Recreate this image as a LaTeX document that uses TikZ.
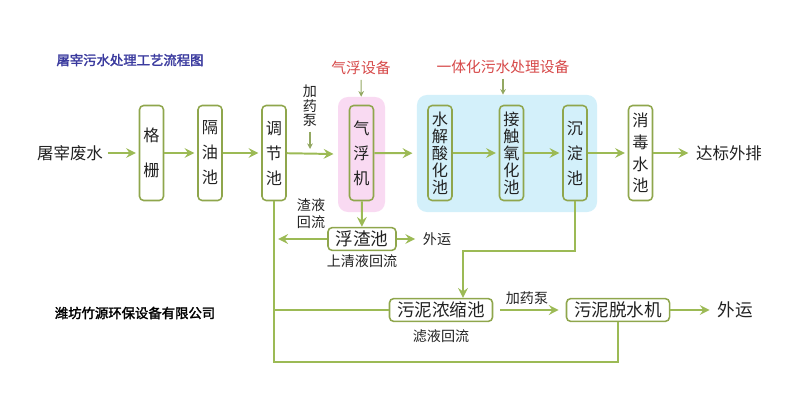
\documentclass[tikz,border=0pt]{standalone}
\usepackage{fontspec}
\usepackage{xcolor}
\usepackage{tikz}
\usetikzlibrary{arrows.meta}
\newfontfamily\cjk{Noto Sans CJK SC}
\newfontfamily\cjkbold[FakeBold=2]{Noto Sans CJK SC}

\definecolor{linegreen}{HTML}{9CBA55}
\definecolor{boxgreen}{HTML}{8FA64C}
\definecolor{pinkzone}{HTML}{F9DAF2}
\definecolor{bluezone}{HTML}{D3F0FA}
\definecolor{labelred}{HTML}{D64848}
\definecolor{titleblue}{HTML}{3A3A9E}
\definecolor{txt}{HTML}{222222}

\tikzset{
    flow/.style={draw=linegreen, line width=1.4pt, -{Stealth[length=7pt,width=7pt,inset=2.5pt]}, shorten >=2pt},
    thinflow/.style={draw=linegreen!70!gray, line width=0.8pt, -{Stealth[length=4pt,width=4pt]}},
    pipe/.style={draw=linegreen, line width=1.4pt},
    tank/.style={draw=boxgreen, line width=1.1pt, rounded corners=3pt, minimum width=0.6cm,
        minimum height=2.375cm, inner sep=0pt, align=center, text=txt},
    hbox/.style={draw=boxgreen, line width=1.1pt, rounded corners=3pt, minimum height=0.57cm,
        inner sep=0pt, text=txt, font=\cjk\fontsize{12.5}{14}\selectfont},
    note/.style={text=txt, align=center, font=\cjk\fontsize{10}{12}\selectfont},
    zone/.style={rounded corners=7pt, inner sep=0pt}
}

\begin{document}
\begin{tikzpicture}[x=0.025cm,y=-0.025cm]
    \useasboundingbox (0,0) rectangle (800,400);

    % equipment zones
    \node[zone,fill=pinkzone,minimum width=1.175cm,minimum height=2.875cm] (qfzone) at (361.5,154.5) {};
    \node[zone,fill=bluezone,minimum width=4.5cm,minimum height=2.925cm] (biozone) at (507,153.5) {};
    \node[text=labelred,font=\cjk\fontsize{10.5}{12}\selectfont] (qflabel) at (361,68) {气浮设备};
    \node[text=labelred,font=\cjk\fontsize{10.5}{12}\selectfont] (biolabel) at (503,67) {一体化污水处理设备};
    \draw[thinflow] (qflabel) -- (qfzone);
    \draw[thinflow] (biolabel) -- (biolabel |- biozone.north);

    % title and company
    \node[text=titleblue,font=\cjkbold\fontsize{9.5}{11}\selectfont] (title) at (130,60) {屠宰污水处理工艺流程图};
    \node[text=black,font=\cjkbold\fontsize{9.5}{11}\selectfont] (company) at (135,313) {潍坊竹源环保设备有限公司};

    % main line
    \node[text=txt,font=\cjk\fontsize{11.7}{14}\selectfont] (src) at (70,153) {屠宰废水};
    \node[tank,font=\cjk\fontsize{11.5}{25}\selectfont] (gs) at (151.5,153) {格\\栅};
    \node[tank,font=\cjk\fontsize{11.5}{17.8}\selectfont] (gy) at (210,153) {隔\\油\\池};
    \node[tank,font=\cjk\fontsize{11.5}{17.8}\selectfont] (tj) at (274,153) {调\\节\\池};
    \node[tank,font=\cjk\fontsize{11.5}{17.8}\selectfont] (qf) at (361.5,153) {气\\浮\\机};
    \node[tank,font=\cjk\fontsize{11.5}{12.1}\selectfont] (sj) at (440,153) {水\\解\\酸\\化\\池};
    \node[tank,font=\cjk\fontsize{11.5}{12.1}\selectfont] (jc) at (511.5,153) {接\\触\\氧\\化\\池};
    \node[tank,font=\cjk\fontsize{11.5}{17.8}\selectfont] (cd) at (575,153) {沉\\淀\\池};
    \node[tank,font=\cjk\fontsize{11.5}{15.4}\selectfont] (xd) at (640.5,153) {消\\毒\\水\\池};
    \node[text=txt,font=\cjk\fontsize{11.7}{14}\selectfont] (out) at (729,153) {达标外排};

    \draw[flow] (src) -- (gs);
    \draw[flow] (gs) -- (gy);
    \draw[flow] (gy) -- (tj);
    \draw[flow,shorten >=3pt] (tj) -- (qfzone);
    \draw[flow,shorten >=3pt] (qf) -- (biozone);
    \foreach \a/\b in {sj/jc,jc/cd,cd/xd,xd/out}
        \draw[flow] (\a) -- (\b);

    % dosing pump
    \node[note,font=\cjk\fontsize{10}{10.2}\selectfont] (dose1) at (310,106) {加\\药\\泵};
    \coordinate (dosein) at (310,149);
    \draw[thinflow] (dose1) -- (dosein);

    % scum
    \node[hbox,minimum width=1.7cm] (fz) at (362,239) {浮渣池};
    \node[note] (fzback) at (311,214) {渣液\\回流};
    \node[note] (fzclear) at (362,261) {上清液回流};
    \node[note] (wy1) at (437,239) {外运};
    \draw[flow,shorten >=0pt] (qf) -- (fz);
    \draw[flow,shorten >=3pt] (fz) -- (fz -| tj);
    \draw[flow] (fz) -- (wy1);

    % sludge
    \node[hbox,minimum width=2.575cm] (wn) at (441,310) {污泥浓缩池};
    \node[hbox,minimum width=2.575cm] (ts) at (618,310) {污泥脱水机};
    \node[note] (wnback) at (441,336) {滤液回流};
    \node[note] (dose2) at (527,298) {加药泵};
    \node[text=txt,font=\cjk\fontsize{12.5}{14}\selectfont] (wy2) at (735,310) {外运};
    \coordinate (sl) at (463,251);
    \draw[flow,shorten >=0pt] (cd) |- (sl) -- (sl |- wn.north);
    \draw[flow,shorten <=5pt,shorten >=5pt] (wn) -- (ts);
    \draw[flow] (ts) -- (wy2);

    % return lines
    \coordinate (retn) at (274,362);
    \draw[pipe] (tj) -- (retn) -| (ts);
    \draw[pipe] (wn) -- (wn -| tj);
\end{tikzpicture}
\end{document}
